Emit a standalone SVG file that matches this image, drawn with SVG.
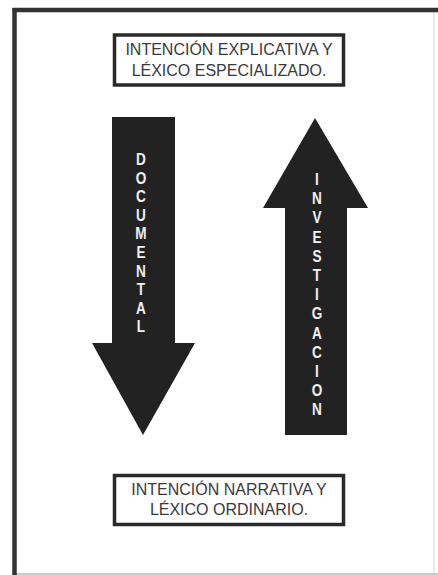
<svg xmlns="http://www.w3.org/2000/svg" width="438" height="575" viewBox="0 0 438 575">
<style>
.box{fill:#fff;stroke:#2a2a2a;stroke-width:3.5}
.bt{font-family:"Liberation Sans",Arial,sans-serif;font-size:16px;fill:#3a3a3a;text-anchor:middle}
.arr{fill:#222}
.vt{font-family:"Liberation Sans",Arial,sans-serif;font-size:17px;font-weight:bold;fill:#f0f0f0;text-anchor:middle}
</style>
<rect width="438" height="575" fill="#fff"/>
<g id="frame">
<line x1="434" y1="12" x2="434" y2="575" stroke="#e4e4e4" stroke-width="1.5"/>
<line x1="14" y1="574" x2="438" y2="574" stroke="#bbb" stroke-width="1.5"/>
<line x1="12.5" y1="10" x2="438" y2="10" stroke="#333" stroke-width="4.5"/>
<line x1="14.5" y1="8" x2="14.5" y2="575" stroke="#333" stroke-width="4.5"/>
</g>
<g id="top-box">
<rect class="box" x="114.5" y="35" width="229" height="50"/>
<text class="bt" x="229" y="55">INTENCIÓN EXPLICATIVA Y</text>
<text class="bt" x="229" y="76">LÉXICO ESPECIALIZADO.</text>
</g>
<g id="bottom-box">
<rect class="box" x="114.5" y="475.5" width="229" height="49"/>
<text class="bt" x="229" y="495">INTENCIÓN NARRATIVA Y</text>
<text class="bt" x="229" y="515">LÉXICO ORDINARIO.</text>
</g>
<g id="connectors">
<g id="documental">
<polygon class="arr" points="112,117 175,117 175,343 195,343 143,435 92,343 112,343"/>
<text class="vt" transform="translate(141 0) scale(0.8 1)"><tspan x="0" y="165">D</tspan><tspan x="0" y="183.6">O</tspan><tspan x="0" y="202.2">C</tspan><tspan x="0" y="220.8">U</tspan><tspan x="0" y="239.4">M</tspan><tspan x="0" y="258">E</tspan><tspan x="0" y="276.6">N</tspan><tspan x="0" y="295.2">T</tspan><tspan x="0" y="313.8">A</tspan><tspan x="0" y="332.4">L</tspan></text>
</g>
<g id="investigacion">
<polygon class="arr" points="315,118 368,208 347,208 347,435 285,435 285,208 263,208"/>
<text class="vt" transform="translate(317 0) scale(0.8 1)"><tspan x="0" y="185">I</tspan><tspan x="0" y="204.2">N</tspan><tspan x="0" y="223.4">V</tspan><tspan x="0" y="242.6">E</tspan><tspan x="0" y="261.8">S</tspan><tspan x="0" y="281">T</tspan><tspan x="0" y="300.2">I</tspan><tspan x="0" y="319.4">G</tspan><tspan x="0" y="338.6">A</tspan><tspan x="0" y="357.8">C</tspan><tspan x="0" y="377">I</tspan><tspan x="0" y="396.2">O</tspan><tspan x="0" y="415.4">N</tspan></text>
</g>
</g>
</svg>
